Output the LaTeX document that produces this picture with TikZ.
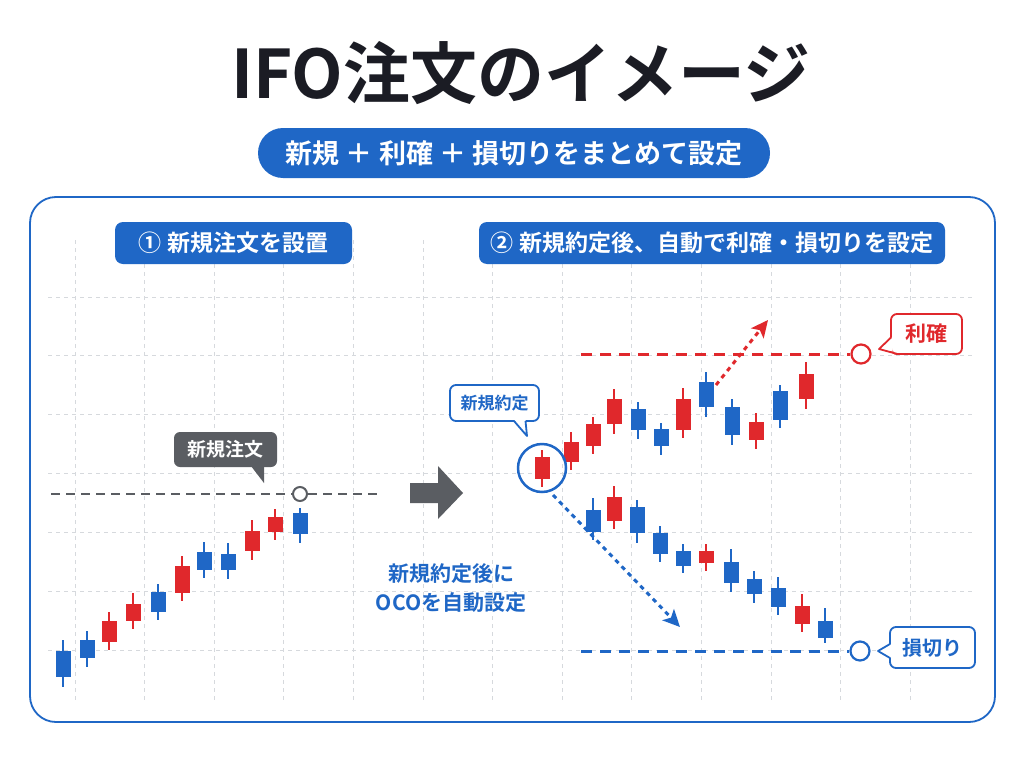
\documentclass[tikz,border=0pt]{standalone}
\usepackage{fontspec}
\setmainfont{Noto Sans CJK JP}[BoldFont={* Bold}]
\usetikzlibrary{arrows.meta,calc}
\definecolor{cblue}{HTML}{1F67C6}
\definecolor{cred}{HTML}{E0282C}
\definecolor{cgray}{HTML}{5A5D62}
\definecolor{ctitle}{HTML}{1B1C24}
\definecolor{cgrid}{HTML}{D6D9DD}
\newcommand\cndl[6]{%
  \draw[#1,line width=2pt] (#2,#3) -- (#2,#4);
  \fill[#1] (#2-7.5,#5) rectangle (#2+7.5,#6);}
\newcommand\fs[1]{\bfseries\fontsize{#1}{#1}\selectfont}
\tikzset{
  gridline/.style={cgrid,line width=0.9pt,dash pattern=on 4pt off 4pt},
  pilllabel/.style={fill=cblue,rounded corners=8pt,text=white,inner sep=0pt,font=\fs{23}},
  levelline/.style={line width=3pt,dash pattern=on 11pt off 8pt},
  dotarrow/.style={line width=3pt,dash pattern=on 4.5pt off 4.5pt,-{Stealth[length=17pt,width=16pt,inset=4pt]}},
  endpt/.style={circle,draw,line width=2.2pt,fill=white,minimum size=19pt,inner sep=0pt},
  wbubble/.style={draw,line width=1.8pt,fill=white,rounded corners=6pt,inner sep=0pt},
}
\begin{document}
\begin{tikzpicture}[x=1pt,y=-1pt]
\useasboundingbox (0,0) rectangle (1024,768);
\fill[white] (0,0) rectangle (1024,768);

% title
\node[text=ctitle,font=\fs{67}] (title) at (521,73) {IFO注文のイメージ};
\node[fill=cblue,rounded corners=25pt,minimum width=512pt,minimum height=50pt,inner sep=0pt,text=white,font=\fs{27}] (sub) at (514,153) {新規 ＋ 利確 ＋ 損切りをまとめて設定};

% grid
\foreach \i in {0,...,12} \draw[gridline] (75+69.6*\i,240) -- (75+69.6*\i,702);
\foreach \y in {297,355.5,414,473,532,591,650} \draw[gridline] (48,\y) -- (975,\y);

% panel
\draw[cblue,line width=1.8pt,rounded corners=26pt] (30,197) rectangle (995,722);

% step labels
\node[pilllabel,minimum width=237pt,minimum height=42pt] (s1) at (233.5,243) {① 新規注文を設置};
\node[pilllabel,minimum width=466pt,minimum height=42pt] (s2) at (712,243) {② 新規約定後、自動で利確・損切りを設定};

% left candles
\cndl{cblue}{63}{640}{687}{651}{677}
\cndl{cblue}{87}{631}{667}{640}{658}
\cndl{cred}{109}{612}{650}{621}{642}
\cndl{cred}{133}{593}{629}{604}{621}
\cndl{cblue}{158}{584}{620}{592}{612}
\cndl{cred}{182}{556}{601}{566}{593}
\cndl{cblue}{204}{542}{578}{552}{570}
\cndl{cblue}{228}{543}{579}{554}{570}
\cndl{cred}{252}{520}{560}{531}{551}
\cndl{cred}{275}{509}{540}{517}{532}
\cndl{cblue}{300}{508}{543}{513}{534}

% entry order line
\coordinate (gl) at (51,494);
\coordinate (gr) at (380,494);
\node[circle,draw=cgray,line width=2pt,fill=white,minimum size=14pt,inner sep=0pt] (po) at (300,494) {};
\draw[cgray,line width=2.7pt,dash pattern=on 9pt off 6pt] (gl) -- (po.west);
\draw[cgray,line width=2.7pt,dash pattern=on 9pt off 6pt] (po.east) -- (gr);

% gray bubble
\node[fill=cgray,rounded corners=6pt,minimum width=103pt,minimum height=35pt,inner sep=0pt,text=white,font=\fs{19}] (nb) at (225.5,449.5) {新規注文};
\fill[cgray] (251,466) -- (264,483) -- (264,466) -- cycle;

% big arrow
\fill[cgray] (410,483) -- (438,483) -- (438,466) -- (463,493) -- (438,519) -- (438,503) -- (410,503) -- cycle;

% middle text
\node[text=cblue,font=\fs{21},align=center,inner sep=0pt] (oco) at (451,588) {新規約定後に\\[8pt]OCOを自動設定};

% right: up path
\cndl{cred}{542}{450}{487}{457}{479}
\cndl{cred}{571}{432}{470}{442}{462}
\cndl{cred}{593}{417}{454}{424}{446}
\cndl{cred}{614}{389}{434}{399}{424}
\cndl{cblue}{638}{402}{439}{409}{430}
\cndl{cblue}{661}{423}{455}{429}{446}
\cndl{cred}{683}{388}{438}{399}{430}
\cndl{cblue}{706}{372}{417}{382}{407}
\cndl{cblue}{732}{399}{445}{407}{435}
\cndl{cred}{756}{413}{449}{422}{440}
\cndl{cblue}{780}{385}{428}{391}{420}
\cndl{cred}{806}{362}{409}{374}{399}

% right: down path
\cndl{cblue}{593}{498}{540}{510}{532}
\cndl{cred}{614}{486}{529}{497}{521}
\cndl{cblue}{637}{500}{543}{507}{533}
\cndl{cblue}{660}{526}{562}{533}{554}
\cndl{cblue}{683}{544}{573}{551}{566}
\cndl{cred}{706}{544}{571}{551}{563}
\cndl{cblue}{731}{549}{592}{562}{583}
\cndl{cblue}{754}{571}{603}{579}{594}
\cndl{cblue}{778}{577}{615}{588}{607}
\cndl{cred}{802}{594}{632}{606}{624}
\cndl{cblue}{825}{608}{643}{621}{638}

% entry circle
\node[circle,draw=cblue,line width=2.5pt,minimum size=48pt,inner sep=0pt] (ec) at (542,468) {};

% 新規約定 bubble
\node[wbubble,draw=cblue,minimum width=89pt,minimum height=36pt,text=cblue,font=\fs{17}] (eb) at (494.5,403) {新規約定};
\fill[white] (514,419.5) -- (527,436) -- (525.5,419.5) -- cycle;
\draw[cblue,line width=1.8pt,line join=round] (514,421) -- (527,436) -- (525.5,421);

% take profit
\node[endpt,draw=cred] (tp) at (861,354) {};
\coordinate (tl) at (581,354);
\draw[cred,levelline] (tl) -- (tp.west);
\node[wbubble,draw=cred,minimum width=71pt,minimum height=40pt,text=cred,font=\fs{21}] (tb) at (926.5,334) {利確};
\fill[white] (892.5,337) -- (879,349) -- (898,352.5) -- (892.5,352.5) -- cycle;
\draw[cred,line width=1.8pt,line join=round] (891,337.5) -- (879,349) -- (897.5,354);

% stop loss
\node[endpt,draw=cblue] (sl) at (860,651) {};
\coordinate (sll) at (581,651);
\draw[cblue,levelline] (sll) -- (sl.west);
\node[wbubble,draw=cblue,minimum width=85pt,minimum height=41pt,text=cblue,font=\fs{20}] (sb) at (932.5,647.5) {損切り};
\fill[white] (891.5,644) -- (878,651) -- (891.5,658) -- cycle;
\draw[cblue,line width=1.8pt,line join=round] (890,644) -- (878,651) -- (890,658);

% dotted arrows
\coordinate (ra) at (716,385);
\coordinate (rb) at (768,320);
\draw[cred,dotarrow] (ra) -- (rb);
\coordinate (ba) at (553,495);
\coordinate (bb) at (680,627);
\draw[cblue,dotarrow] (ba) -- (bb);
\end{tikzpicture}
\end{document}
